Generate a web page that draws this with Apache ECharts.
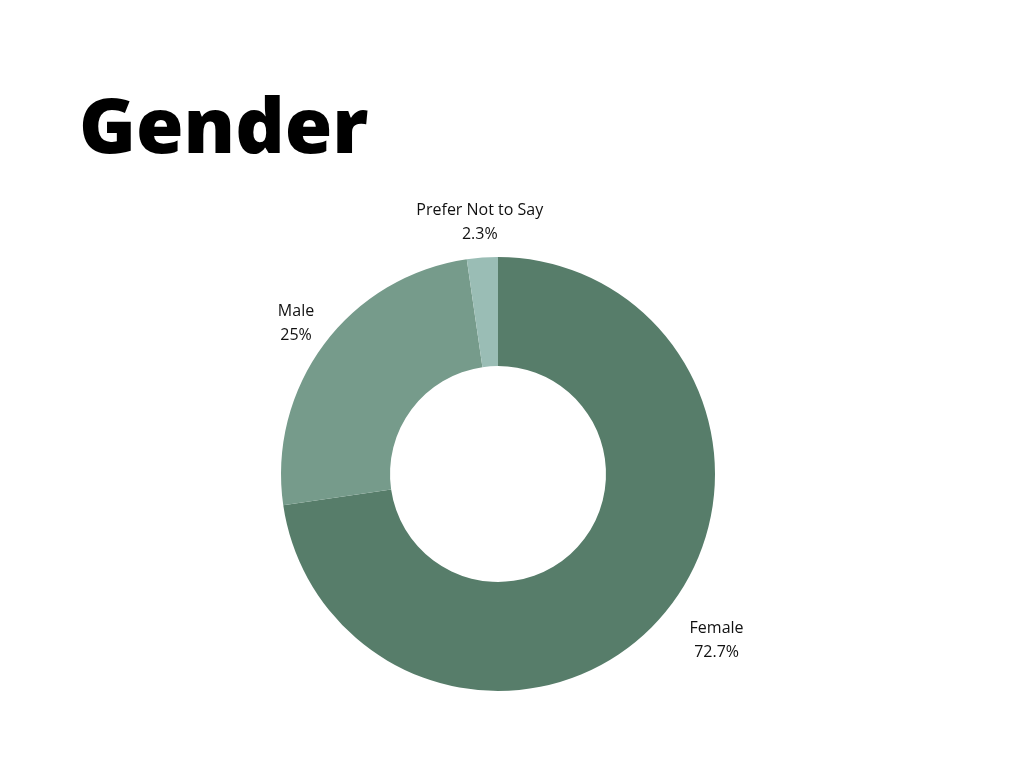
<!DOCTYPE html>
<html>
<head>
<meta charset="utf-8">
<title>Gender</title>
<script src="https://cdn.jsdelivr.net/npm/echarts@6/dist/echarts.min.js"></script>
<style>
  html, body { margin: 0; padding: 0; background: #ffffff; }
  #chart { width: 1024px; height: 768px; }
</style>
</head>
<body>
<div id="chart"></div>
<script>
// Survey respondents by gender (percent of total)
const categories = ['Female', 'Male', 'Prefer Not to Say'];
const shares = [72.7, 25, 2.3];
const sliceColors = ['#577d6a', '#769b8b', '#9abdb5'];

const pieData = categories.map((name, i) => ({ name, value: shares[i] }));

const chart = echarts.init(document.getElementById('chart'), null, { renderer: 'canvas' });

chart.setOption({
  backgroundColor: '#ffffff',
  animation: false,
  title: {
    text: 'Gender',
    left: 79,
    top: 93,
    padding: 0,
    textStyle: {
      fontFamily: 'Open Sans',
      fontWeight: 800,
      fontSize: 77,
      color: '#000000'
    }
  },
  series: [
    {
      // the donut itself
      type: 'pie',
      center: [498, 474],
      radius: [108, 217],
      startAngle: 90,
      clockwise: true,
      silent: true,
      color: sliceColors,
      label: { show: false },
      labelLine: { show: false },
      data: pieData
    },
    {
      // transparent ring that carries the centred name / percent labels
      type: 'pie',
      center: [498, 474],
      radius: [233, 265],
      startAngle: 90,
      clockwise: true,
      silent: true,
      itemStyle: { color: 'rgba(0,0,0,0)' },
      label: {
        show: true,
        position: 'inside',
        fontFamily: 'Open Sans',
        fontSize: 16,
        lineHeight: 24,
        color: '#111111',
        align: 'center',
        formatter: p => p.name + '\n' + p.value + '%'
      },
      // the large slice's label sits a little further out to the right
      labelLayout: p => (p.dataIndex === 0 ? { dx: 28, dy: 2 } : {}),
      labelLine: { show: false },
      data: pieData
    }
  ]
});
</script>
</body>
</html>
